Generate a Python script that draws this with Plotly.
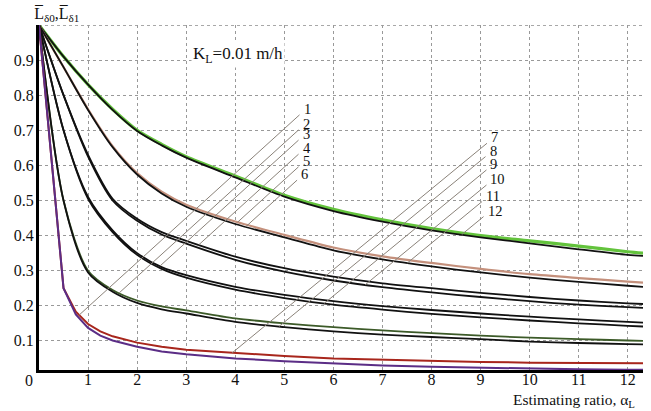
import numpy as np
import plotly.graph_objects as go

# ---------------- data ----------------
x_vals = [0, 0.5, 1, 1.5, 2, 2.5, 3, 4, 5, 6, 7, 8, 9, 10, 11, 12, 12.31]

c1_green = [1.0, 0.91, 0.83, 0.76, 0.70, 0.66, 0.625, 0.57, 0.515, 0.475, 0.445, 0.42, 0.40, 0.385, 0.37, 0.354, 0.35]
c1_black = [1.0, 0.91, 0.83, 0.758, 0.698, 0.657, 0.622, 0.566, 0.511, 0.47, 0.44, 0.415, 0.395, 0.378, 0.361, 0.345, 0.342]
c2_brown = [1.0, 0.88, 0.76, 0.655, 0.578, 0.525, 0.488, 0.44, 0.402, 0.366, 0.341, 0.322, 0.305, 0.290, 0.279, 0.269, 0.266]
c2_black = [1.0, 0.88, 0.758, 0.652, 0.574, 0.52, 0.482, 0.433, 0.395, 0.358, 0.332, 0.312, 0.295, 0.28, 0.268, 0.257, 0.254]
c3_upper = [1.0, 0.80, 0.63, 0.505, 0.448, 0.41, 0.385, 0.34, 0.307, 0.283, 0.264, 0.250, 0.237, 0.225, 0.215, 0.207, 0.205]
c3_lower = [1.0, 0.80, 0.625, 0.50, 0.442, 0.403, 0.377, 0.331, 0.297, 0.272, 0.253, 0.238, 0.225, 0.213, 0.203, 0.196, 0.194]
c4_upper = [1.0, 0.70, 0.51, 0.415, 0.35, 0.31, 0.287, 0.254, 0.231, 0.213, 0.199, 0.188, 0.178, 0.169, 0.161, 0.154, 0.152]
c4_lower = [1.0, 0.70, 0.505, 0.41, 0.345, 0.305, 0.28, 0.246, 0.222, 0.203, 0.189, 0.177, 0.167, 0.158, 0.150, 0.143, 0.141]
c5_green = [1.0, 0.50, 0.30, 0.245, 0.215, 0.198, 0.187, 0.164, 0.150, 0.139, 0.130, 0.122, 0.115, 0.109, 0.105, 0.101, 0.100]
c5_black = [1.0, 0.50, 0.295, 0.24, 0.208, 0.19, 0.178, 0.154, 0.139, 0.127, 0.118, 0.111, 0.105, 0.098, 0.094, 0.091, 0.090]

x6_vals = [0, 0.5, 0.75, 1, 1.25, 1.5, 2, 2.5, 3, 4, 5, 6, 7, 8, 9, 10, 11, 12, 12.31]
c6_red = [1.0, 0.25, 0.183, 0.148, 0.127, 0.113, 0.095, 0.083, 0.075, 0.065, 0.057, 0.05, 0.046, 0.042, 0.04, 0.038, 0.037, 0.036, 0.036]
c6_purple = [1.0, 0.25, 0.175, 0.137, 0.115, 0.101, 0.083, 0.07, 0.062, 0.05, 0.042, 0.035, 0.03, 0.026, 0.023, 0.02, 0.019, 0.018, 0.018]

x_ticks = [1, 2, 3, 4, 5, 6, 7, 8, 9, 10, 11, 12]
y_ticks = [0.1, 0.2, 0.3, 0.4, 0.5, 0.6, 0.7, 0.8, 0.9]
leader_labels_a = ["1", "2", "3", "4", "5", "6"]
leader_labels_b = ["7", "8", "9", "10", "11", "12"]

# ---------------- styling / layout ----------------
FONT = "Liberation Serif, Times New Roman, DejaVu Serif, serif"
curves = [
    (x_vals, c1_green, "#63c33c", 3.2, "spline"),
    (x_vals, c1_black, "#111111", 1.8, "spline"),
    (x_vals, c2_brown, "#c4907c", 2.2, "spline"),
    (x_vals, c2_black, "#111111", 1.8, "spline"),
    (x_vals, c3_upper, "#111111", 1.8, "spline"),
    (x_vals, c3_lower, "#111111", 1.8, "spline"),
    (x_vals, c4_upper, "#111111", 1.8, "spline"),
    (x_vals, c4_lower, "#111111", 1.8, "spline"),
    (x_vals, c5_green, "#3c5a28", 1.8, "spline"),
    (x_vals, c5_black, "#111111", 1.8, "spline"),
    (x6_vals, c6_red, "#a8261c", 2.0, "linear"),
    (x6_vals, c6_purple, "#5b2d86", 2.0, "linear"),
]

fig = go.Figure()
for xs_, ys, col, w, shp in curves:
    fig.add_trace(go.Scatter(x=xs_, y=ys, mode="lines",
                             line=dict(color=col, width=w, shape=shp, smoothing=0.8),
                             showlegend=False, hoverinfo="skip"))

# leader lines: start at label anchors, go down-left with a fixed slope until
# they meet their target curve
anch_a = [(5.31, 0.744), (5.29, 0.701), (5.29, 0.672), (5.29, 0.632), (5.29, 0.596), (5.26, 0.558)]
anch_b = [(9.13, 0.663), (9.10, 0.625), (9.12, 0.587), (9.12, 0.544), (9.03, 0.497), (9.06, 0.454)]
targets_a = [(x6_vals, c6_red), (x_vals, c5_green), (x_vals, c4_upper), (x_vals, c3_upper),
             (x_vals, c2_brown), (x_vals, c2_black)]
targets_b = [(x6_vals, c6_red), (x_vals, c5_black), (x_vals, c4_lower), (x_vals, c3_lower),
             (x_vals, c2_black), (x_vals, c1_black)]
slope_a, slope_b = 0.127, 0.115

def meet(anchor, slope, target):
    x0, y0 = anchor
    cx, cy = target
    xs = np.linspace(x0, 0.05, 4000)
    diff = (y0 - slope * (x0 - xs)) - np.interp(xs, np.array(cx, float), np.array(cy, float))
    idx = np.where(np.sign(diff[1:]) != np.sign(diff[:-1]))[0]
    xm = xs[idx[0]] if len(idx) else xs[-1]
    return xm, y0 - slope * (x0 - xm)

for group, anchors, targets, slope in [(leader_labels_a, anch_a, targets_a, slope_a),
                                       (leader_labels_b, anch_b, targets_b, slope_b)]:
    for lab, anc, tgt in zip(group, anchors, targets):
        xe, ye = meet(anc, slope, tgt)
        fig.add_trace(go.Scatter(x=[anc[0], xe], y=[anc[1], ye], mode="lines",
                                 line=dict(color="#8a8279", width=1),
                                 showlegend=False, hoverinfo="skip"))
        fig.add_annotation(x=anc[0], y=anc[1], text=lab, showarrow=False,
                           xanchor="left", yanchor="middle", xshift=2, yshift=6,
                           font=dict(family=FONT, size=14.5, color="#111"))

# top dotted border at 1.0
fig.add_shape(type="line", xref="paper", x0=0, x1=1, yref="y", y0=1.0, y1=1.0,
              line=dict(color="#8c8c8c", width=1.5, dash="dot"), layer="below")

fig.add_annotation(x=3.1, y=0.915, text="K<sub>L</sub>=0.01 m/h", showarrow=False,
                   xanchor="left", yanchor="middle", bgcolor="white",
                   font=dict(family=FONT, size=17, color="#111"))
fig.add_annotation(xref="paper", yref="paper", x=-0.012, y=0.997,
                   text="L\u0305<sub>\u03b40</sub>,L\u0305<sub>\u03b41</sub>",
                   showarrow=False, xanchor="left", yanchor="bottom",
                   font=dict(family=FONT, size=16, color="#111"))
fig.add_annotation(xref="paper", yref="paper", x=-0.017, y=-0.03, text="0",
                   showarrow=False, xanchor="center", yanchor="middle",
                   font=dict(family=FONT, size=16, color="#111"))
fig.add_annotation(xref="paper", yref="paper", x=0.99, y=-0.087,
                   text="Estimating ratio, \u03b1<sub>L</sub>", showarrow=False,
                   xanchor="right", yanchor="middle",
                   font=dict(family=FONT, size=15.5, color="#111"))

fig.update_layout(
    width=651, height=411,
    margin=dict(l=39, r=8, t=25, b=41),
    paper_bgcolor="white", plot_bgcolor="white",
    font=dict(family=FONT, size=16, color="#111"),
    xaxis=dict(range=[0, 12.31], tickvals=x_ticks, ticktext=[str(v) for v in x_ticks],
               showgrid=True, gridcolor="#999999", gridwidth=1, griddash="dot",
               showline=True, linecolor="black", linewidth=2.5, zeroline=False,
               ticks="", ticklabelstandoff=-7, tickfont=dict(family=FONT, size=16)),
    yaxis=dict(range=[0.017, 1.0], tickvals=y_ticks, ticktext=[f"{v:.1f}" for v in y_ticks],
               showgrid=True, gridcolor="#999999", gridwidth=1, griddash="dot",
               showline=True, linecolor="black", linewidth=3, zeroline=False,
               ticks="", ticklabelstandoff=-1, tickfont=dict(family=FONT, size=16)),
)

fig.write_html("out.html")
